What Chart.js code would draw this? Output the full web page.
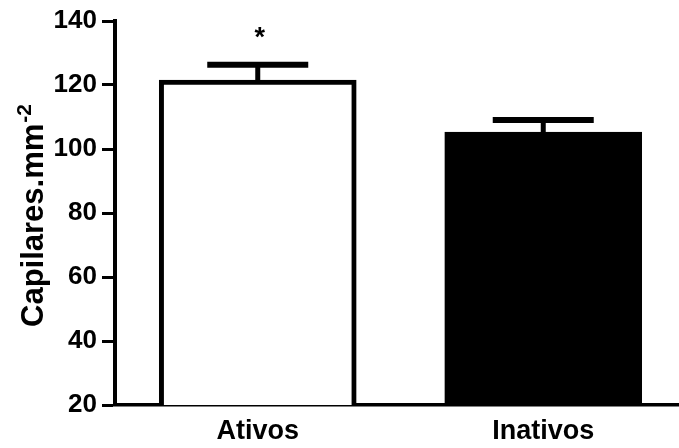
<!DOCTYPE html>
<html>
<head>
<meta charset="utf-8">
<script src="https://cdn.jsdelivr.net/npm/chart.js@4/dist/chart.umd.min.js"></script>
<style>
  html, body { margin: 0; padding: 0; background: #fff; }
  #wrap { width: 679px; height: 448px; overflow: hidden; }
</style>
</head>
<body>
<div id="wrap"><canvas id="c" width="679" height="448"></canvas></div>
<script>
// Capillary density per group (mean and SEM)
const categories = ['Ativos', 'Inativos'];
const means = [121.5, 105.3];
const sem = [4.8, 3.8];
const significant = [true, false];
const yTicks = [20, 40, 60, 80, 100, 120, 140];
const yTitle = 'Capilares.mm';
const yTitleSup = '-2';

const FONT = '"Liberation Sans", Arial, Helvetica, sans-serif';

// Upper error bars (cap + stem) and significance asterisks
const errorBars = {
  id: 'errorBars',
  afterDatasetsDraw(chart) {
    const ctx = chart.ctx;
    const meta = chart.getDatasetMeta(0);
    const y = chart.scales.y;
    ctx.save();
    ctx.strokeStyle = '#000';
    ctx.fillStyle = '#000';
    meta.data.forEach((bar, i) => {
      const x = bar.x;
      const yMean = y.getPixelForValue(means[i]);
      const yTop = y.getPixelForValue(means[i] + sem[i]);
      ctx.lineWidth = 5;
      ctx.beginPath();
      ctx.moveTo(x, yMean);
      ctx.lineTo(x, yTop);
      ctx.stroke();
      ctx.lineWidth = 6;
      ctx.beginPath();
      ctx.moveTo(x - 50.5, yTop);
      ctx.lineTo(x + 50.5, yTop);
      ctx.stroke();
      if (significant[i]) {
        ctx.font = 'bold 27px ' + FONT;
        ctx.textAlign = 'center';
        ctx.textBaseline = 'alphabetic';
        ctx.fillText('*', x + 2, yTop - 19);
      }
    });
    ctx.restore();
  }
};

// Rotated y-axis title with superscript exponent
const yAxisTitle = {
  id: 'yAxisTitle',
  afterDraw(chart) {
    const ctx = chart.ctx;
    ctx.save();
    ctx.translate(43, 327);
    ctx.rotate(-Math.PI / 2);
    ctx.fillStyle = '#000';
    ctx.textAlign = 'left';
    ctx.textBaseline = 'alphabetic';
    ctx.font = 'bold 31px ' + FONT;
    ctx.fillText(yTitle, 0, 0);
    const w = ctx.measureText(yTitle).width;
    ctx.font = 'bold 21px ' + FONT;
    ctx.fillText(yTitleSup, w + 1, -12);
    ctx.restore();
  }
};

new Chart(document.getElementById('c'), {
  type: 'bar',
  data: {
    datasets: [{
      data: means.map((v, i) => ({ x: i, y: v })),
      backgroundColor: ['#ffffff', '#000000'],
      borderColor: '#000000',
      borderWidth: 5,
      borderSkipped: 'start',
      barThickness: 197
    }]
  },
  options: {
    responsive: false,
    devicePixelRatio: 1,
    animation: false,
    events: [],
    layout: { padding: { top: 21, right: 0, bottom: 0, left: 0 } },
    plugins: { legend: { display: false }, tooltip: { enabled: false } },
    scales: {
      x: {
        type: 'linear',
        offset: false,
        min: -0.5,
        max: 1.4755,
        afterBuildTicks: s => { s.ticks = categories.map((_, i) => ({ value: i })); },
        afterFit: s => { s.height = 43; },
        grid: { display: false, offset: false },
        border: { display: true, color: '#000', width: 3.5 },
        ticks: {
          autoSkip: false,
          maxRotation: 0,
          padding: 2,
          color: '#000',
          font: { family: FONT, size: 27, weight: 'bold' },
          callback: v => categories[v] ?? ''
        }
      },
      y: {
        min: 20,
        max: 140,
        afterBuildTicks: s => { s.ticks = yTicks.map(v => ({ value: v })); },
        afterFit: s => { s.width = 115; },
        grid: {
          display: true,
          drawOnChartArea: false,
          drawTicks: true,
          tickLength: 13,
          tickWidth: 3,
          tickColor: '#000'
        },
        border: { display: true, color: '#000', width: 4 },
        ticks: {
          padding: 5,
          color: '#000',
          font: { family: FONT, size: 26, weight: 'bold' }
        }
      }
    }
  },
  plugins: [errorBars, yAxisTitle]
});
</script>
</body>
</html>
